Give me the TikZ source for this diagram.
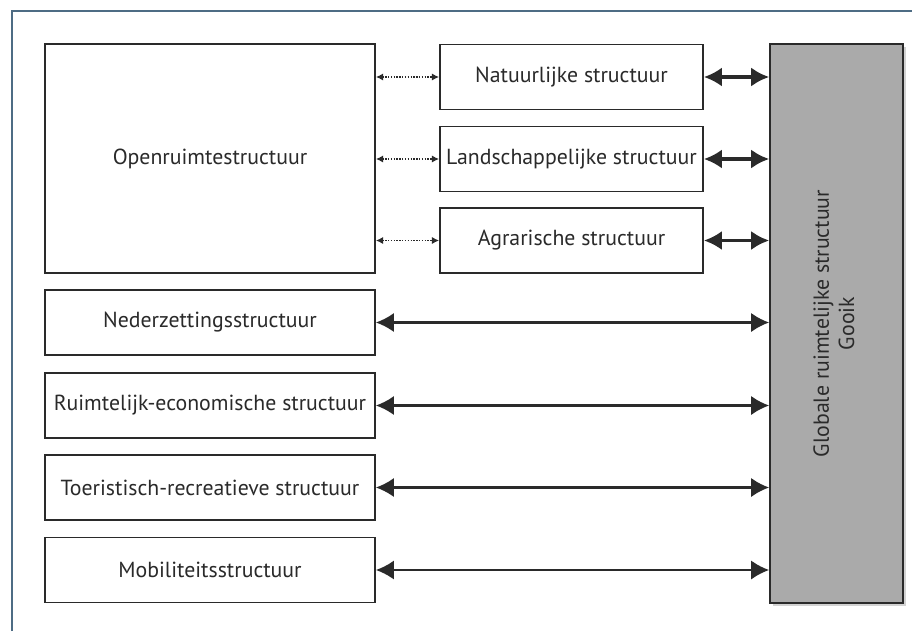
\documentclass[tikz,border=0pt]{standalone}
\usepackage{fontspec}
\setmainfont{PT Sans}
\usetikzlibrary{arrows.meta,shadows}
\definecolor{framebl}{HTML}{4E6C84}
\definecolor{ink}{HTML}{2A2A2A}
\definecolor{globgrey}{HTML}{AAAAAA}
\begin{document}
\begin{tikzpicture}[
  x=0.025cm, y=-0.025cm,
  box/.style={draw=ink, line width=1.2pt, fill=white, text=ink, font=\fontsize{15.5}{18}\selectfont, align=center, inner sep=0pt},
  wide/.style={box, minimum width=8.25cm, minimum height=1.63cm},
  small/.style={box, minimum width=6.575cm, minimum height=1.63cm},
  link/.style={{Latex[length=4.5mm,width=4.8mm]}-{Latex[length=4.5mm,width=4.8mm]}, line width=1.5pt, draw=ink},
  shortlink/.style={link, line width=2.4pt},
  dotlink/.style={{Latex[length=1.8mm,width=1.8mm]}-{Latex[length=1.8mm,width=1.8mm]}, densely dotted, line width=1pt, draw=ink}
]
\useasboundingbox (0,0) rectangle (912,631);
\fill[white] (0,0) rectangle (912,631);
\draw[framebl, line width=2pt] (12,631) -- (12,11) -- (912,11);

% open space and its three parts
\node[box, minimum width=8.25cm, minimum height=5.725cm] (open) at (210,158.5) {Openruimtestructuur};
\node[small] (nat) at (571.5,77) {Natuurlijke structuur};
\node[small] (land) at (571.5,159) {Landschappelijke structuur};
\node[small] (agr) at (571.5,240.5) {Agrarische structuur};

% the other structures
\node[wide] (neder) at (210,322.5) {Nederzettingsstructuur};
\node[wide] (econ) at (210,405.5) {Ruimtelijk-economische structuur};
\node[wide] (toer) at (210,487.5) {Toeristisch-recreatieve structuur};
\node[wide] (mob) at (210,570) {Mobiliteitsstructuur};

\node[box, fill=globgrey, minimum width=3.325cm, minimum height=13.975cm,
  drop shadow={opacity=0.35, shadow xshift=2pt, shadow yshift=-2pt}] (glob) at (836.5,323.5)
  {\rotatebox{90}{\begin{tabular}{c}Globale ruimtelijke structuur\\Gooik\end{tabular}}};

\foreach \n in {nat,land,agr} {
  \draw[dotlink] (open.east |- \n.west) -- (\n.west);
  \draw[shortlink] (\n.east) -- (glob.west |- \n.east);
}
\foreach \n in {neder,econ,toer,mob} {
  \draw[link] (\n.east) -- (glob.west |- \n.east);
}
\end{tikzpicture}
\end{document}
